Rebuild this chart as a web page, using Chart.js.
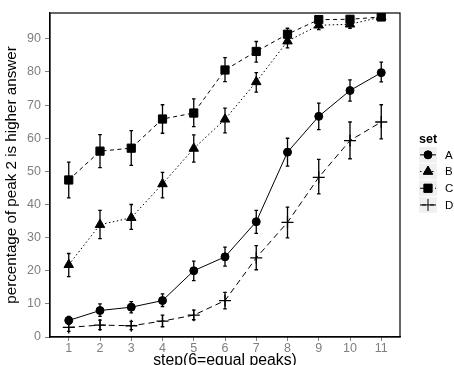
<!DOCTYPE html>
<html>
<head>
<meta charset="utf-8">
<script src="https://cdn.jsdelivr.net/npm/chart.js@4.4.0/dist/chart.umd.min.js"></script>
<style>
  html, body { margin: 0; padding: 0; background: #fff; }
  #wrap { width: 454px; height: 365px; }
</style>
</head>
<body>
<div id="wrap"><canvas id="c" width="454" height="365"></canvas></div>
<script>
// steps on x axis
var steps = [1, 2, 3, 4, 5, 6, 7, 8, 9, 10, 11];
var yTicks = [0, 10, 20, 30, 40, 50, 60, 70, 80, 90];

// set A (circle, solid)
var aMean = [5, 8, 9, 11, 20, 24.2, 34.8, 55.8, 66.6, 74.4, 79.8];
var aLo   = [3.8, 6.2, 7.3, 9.2, 17, 21.4, 31.3, 51.6, 62.6, 71.2, 77];
var aHi   = [6.2, 10, 10.7, 13, 22.9, 27.1, 38.2, 60, 70.6, 77.6, 83];
// set B (triangle, dotted)
var bMean = [21.8, 33.9, 36, 46.2, 56.9, 65.7, 77, 89.3, 94.1, 94.4, 96.6];
var bLo   = [18.2, 29.7, 32.5, 42, 52.8, 61.6, 73.9, 87.3, 92.8, 93.2, 95.6];
var bHi   = [25.2, 38.2, 40, 49.7, 61, 69.1, 79.8, 91.2, 95.5, 95.7, 97.5];
// set C (square, dashed)
var cMean = [47.4, 56.1, 57, 65.8, 67.6, 80.6, 86.2, 91.4, 95.8, 95.9, 96.6];
var cLo   = [42, 51.1, 51.8, 61.5, 63.5, 77.1, 83, 89.7, 94.8, 94.9, 95.7];
var cHi   = [52.8, 61.1, 62.3, 70.1, 71.9, 84.3, 89.2, 93.2, 96.8, 96.9, 97.5];
// set D (cross, long dash)
var dMean = [2.9, 3.6, 3.4, 4.8, 6.6, 11, 23.9, 34.6, 48.2, 59.3, 64.9];
var dLo   = [1.7, 2.2, 2.2, 3.1, 5.2, 8.5, 20.3, 29.9, 43.2, 53.8, 59.8];
var dHi   = [4.1, 5.1, 4.7, 6.6, 8.1, 13.5, 27.6, 39.2, 53.6, 64.9, 70.1];

var FONT = "'Liberation Sans', Arial, Helvetica, sans-serif";
var GREY = '#7f7f7f';

function pts(ys) {
  return steps.map(function (x, i) { return { x: x, y: ys[i] }; });
}

function series(label, mean, lo, hi, style, radius, dash) {
  return {
    label: label,
    data: pts(mean),
    _lo: lo,
    _hi: hi,
    borderColor: '#000',
    backgroundColor: '#000',
    borderWidth: 1,
    borderDash: dash,
    pointStyle: style,
    pointRadius: radius,
    pointBackgroundColor: '#000',
    pointBorderColor: '#000',
    pointBorderWidth: style === 'cross' ? 1.3 : 1,
    tension: 0,
    fill: false
  };
}

// error bars, drawn through the chart's own scales
var errorBars = {
  id: 'errorBars',
  beforeDatasetsDraw: function (chart) {
    var ctx = chart.ctx, xs = chart.scales.x, ys = chart.scales.y;
    ctx.save();
    ctx.strokeStyle = '#000';
    ctx.lineWidth = 1.3;
    ctx.setLineDash([]);
    chart.data.datasets.forEach(function (ds) {
      ds.data.forEach(function (p, i) {
        var px = xs.getPixelForValue(p.x);
        var y1 = ys.getPixelForValue(ds._lo[i]);
        var y2 = ys.getPixelForValue(ds._hi[i]);
        ctx.beginPath();
        ctx.moveTo(px, y1); ctx.lineTo(px, y2);
        ctx.moveTo(px - 1.8, y1); ctx.lineTo(px + 1.8, y1);
        ctx.moveTo(px - 1.8, y2); ctx.lineTo(px + 1.8, y2);
        ctx.stroke();
      });
    });
    ctx.restore();
  }
};

// panel frame + ggplot-ish legend on the right
var frameAndLegend = {
  id: 'frameAndLegend',
  afterDraw: function (chart) {
    var ctx = chart.ctx, a = chart.chartArea;
    ctx.save();
    ctx.strokeStyle = '#000';
    ctx.lineWidth = 1.2;
    ctx.setLineDash([]);
    ctx.strokeRect(a.left, a.top, a.right - a.left, a.bottom - a.top);

    var lx = 419, ly = 146.5, rowH = 16.7, kw = 18;
    ctx.fillStyle = '#000';
    ctx.font = 'bold 12.5px ' + FONT;
    ctx.textBaseline = 'alphabetic';
    ctx.fillText('set', lx, ly - 4);
    chart.data.datasets.forEach(function (ds, i) {
      var top = ly + i * rowH;
      var cy = top + rowH / 2;
      ctx.fillStyle = '#f0f0f0';
      ctx.fillRect(lx, top + 0.5, kw, rowH - 1);
      ctx.strokeStyle = '#000';
      ctx.lineWidth = 1;
      ctx.setLineDash(ds.borderDash || []);
      ctx.beginPath();
      ctx.moveTo(lx + 1, cy); ctx.lineTo(lx + kw - 1, cy);
      ctx.stroke();
      ctx.setLineDash([]);
      ctx.fillStyle = '#000';
      Chart.helpers.drawPoint(ctx, {
        pointStyle: ds.pointStyle,
        radius: ds.pointRadius,
        borderWidth: ds.pointBorderWidth,
        rotation: 0
      }, lx + kw / 2, cy);
      if (ds.pointStyle !== 'cross') ctx.fill();
      ctx.fillStyle = '#000';
      ctx.font = '11.5px ' + FONT;
      ctx.textBaseline = 'middle';
      ctx.fillText(ds.label, lx + kw + 8, cy + 0.5);
    });
    ctx.restore();
  }
};

new Chart(document.getElementById('c'), {
  type: 'line',
  data: {
    datasets: [
      series('A', aMean, aLo, aHi, 'circle', 4, []),
      series('B', bMean, bLo, bHi, 'triangle', 5.5, [1.5, 2.5]),
      series('C', cMean, cLo, cHi, 'rect', 5.8, [4, 3.5]),
      series('D', dMean, dLo, dHi, 'cross', 6, [6, 4])
    ]
  },
  options: {
    responsive: false,
    animation: false,
    layout: { padding: { top: 13, right: 54, left: 0, bottom: 0 } },
    plugins: { legend: { display: false }, tooltip: { enabled: false } },
    scales: {
      x: {
        type: 'linear',
        min: 0.4,
        max: 11.6,
        afterBuildTicks: function (s) { s.ticks = steps.map(function (v) { return { value: v }; }); },
        afterFit: function (s) { s.height = 28; },
        grid: { display: true, drawOnChartArea: false, drawTicks: true, tickLength: 4, color: GREY },
        border: { display: true, color: '#000', width: 1.2 },
        ticks: { color: GREY, font: { family: FONT, size: 12.5 }, padding: 0, maxRotation: 0 },
        title: { display: true, text: 'step(6=equal peaks)', color: '#000', font: { family: FONT, size: 15.8 }, padding: { top: 0, bottom: -5 } }
      },
      y: {
        type: 'linear',
        min: 0,
        max: 97.8,
        afterBuildTicks: function (s) { s.ticks = yTicks.map(function (v) { return { value: v }; }); },
        afterFit: function (s) { s.width = 50; },
        grid: { display: true, drawOnChartArea: false, drawTicks: true, tickLength: 5, color: GREY },
        border: { display: true, color: '#000', width: 1.2 },
        ticks: { color: GREY, font: { family: FONT, size: 12.5 }, padding: 4 },
        title: { display: true, text: 'percentage of peak 2 is higher answer', color: '#000', font: { family: FONT, size: 15.2 }, padding: { top: 3, bottom: 0 } }
      }
    }
  },
  plugins: [errorBars, frameAndLegend]
});
</script>
</body>
</html>
